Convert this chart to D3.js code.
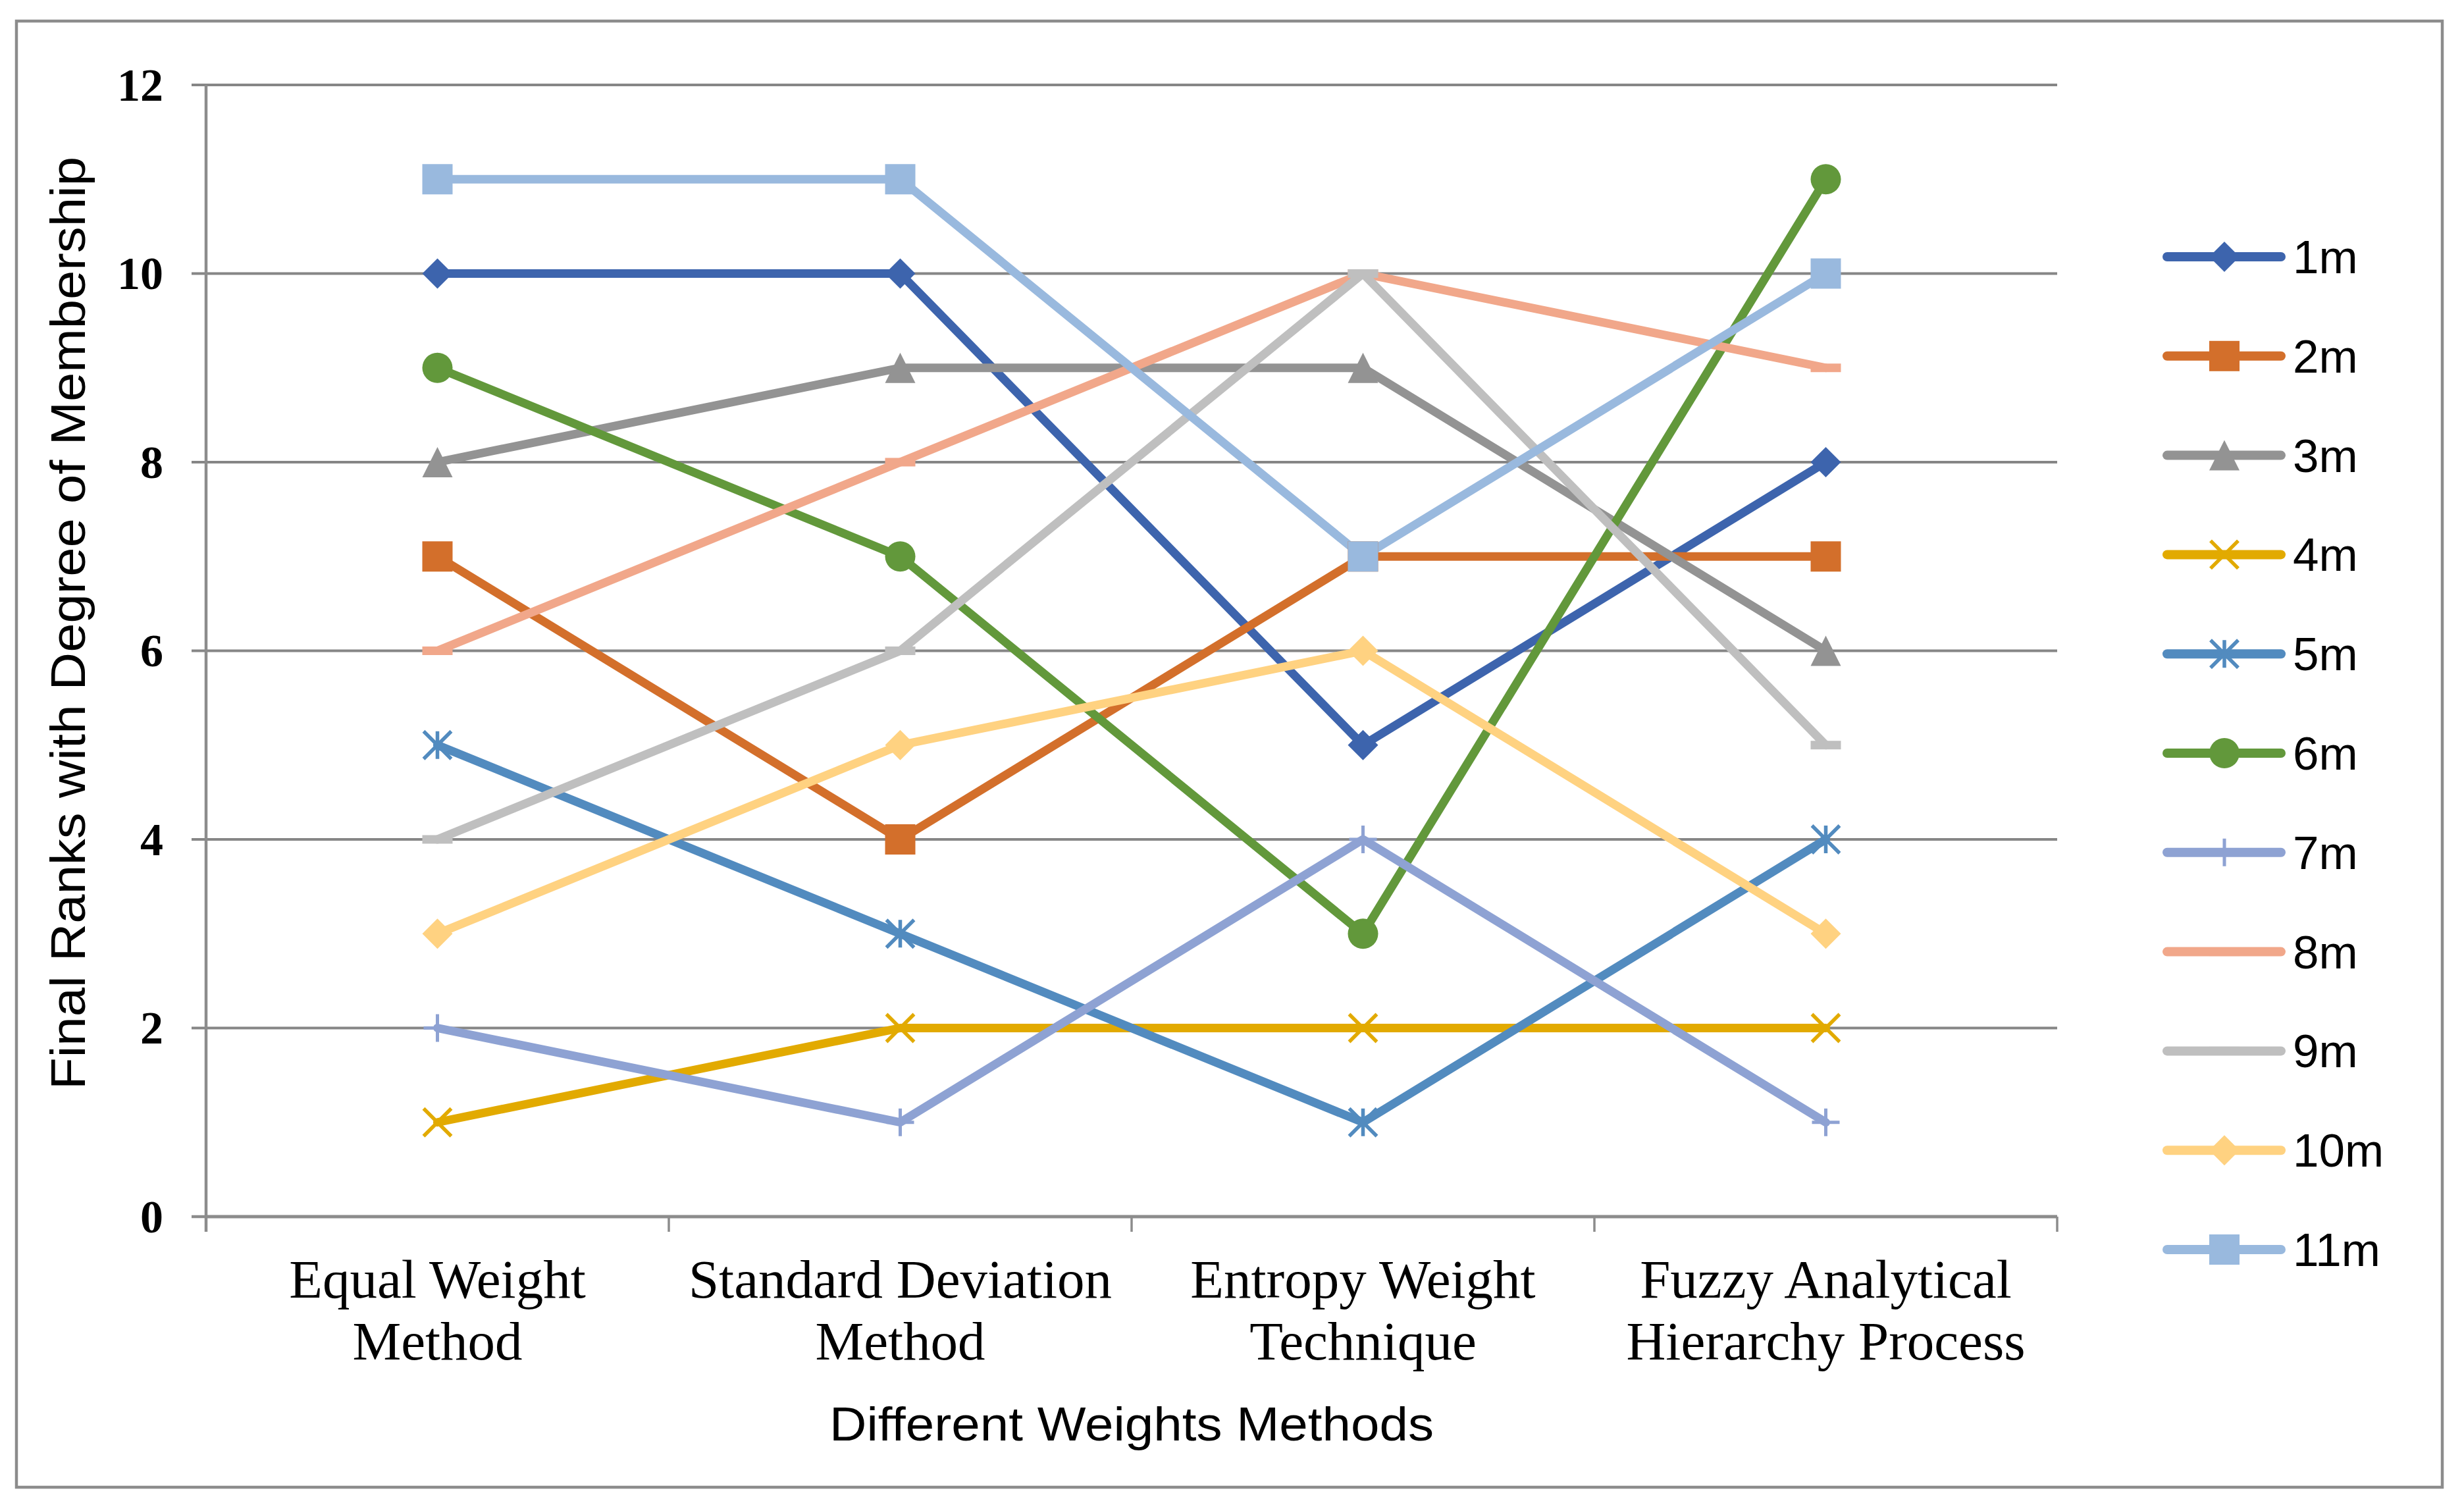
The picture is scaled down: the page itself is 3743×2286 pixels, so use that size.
<!DOCTYPE html>
<html>
<head>
<meta charset="utf-8">
<script src="https://cdn.jsdelivr.net/npm/d3@7"></script>
<style>
  html, body { margin: 0; padding: 0; background: #ffffff; }
  svg { display: block; }
</style>
</head>
<body>
<div id="chart"></div>
<script>
// ---------------- data ----------------
const categories = [
  "Equal Weight Method",
  "Standard Deviation Method",
  "Entropy Weight Technique",
  "Fuzzy Analytical Hierarchy Process"
];
const categoryLines = [
  ["Equal Weight", "Method"],
  ["Standard Deviation", "Method"],
  ["Entropy Weight", "Technique"],
  ["Fuzzy Analytical", "Hierarchy Process"]
];
const seriesNames = ["1m", "2m", "3m", "4m", "5m", "6m", "7m", "8m", "9m", "10m", "11m"];
const s1m  = [10, 10, 5, 8];
const s2m  = [7, 4, 7, 7];
const s3m  = [8, 9, 9, 6];
const s4m  = [1, 2, 2, 2];
const s5m  = [5, 3, 1, 4];
const s6m  = [9, 7, 3, 11];
const s7m  = [2, 1, 4, 1];
const s8m  = [6, 8, 10, 9];
const s9m  = [4, 6, 10, 5];
const s10m = [3, 5, 6, 3];
const s11m = [11, 11, 7, 10];
const seriesValues = [s1m, s2m, s3m, s4m, s5m, s6m, s7m, s8m, s9m, s10m, s11m];
const seriesColors = ["#3D64AD", "#D36F2B", "#939393", "#E2AA00", "#528BBF", "#62983B",
                      "#8EA2D3", "#F1A78A", "#BFBFBF", "#FFD281", "#99B9DE"];
const seriesMarkers = ["diamond", "square", "triangle", "x", "asterisk", "circle",
                       "plus", "dash", "dash", "diamond", "square"];
const yTicks = [0, 2, 4, 6, 8, 10, 12];
const yTitle = "Final Ranks with Degree of Membership";
const xTitle = "Different Weights Methods";

// ---------------- layout ----------------
const W = 3743, H = 2286;
const plot = { left: 313, right: 3125, top: 129, bottom: 1848 };
const gridColor = "#868686";
const axisColor = "#8C8C8C";

const svg = d3.select("#chart").append("svg")
  .attr("width", W).attr("height", H)
  .attr("viewBox", `0 0 ${W} ${H}`);

svg.append("rect").attr("x", 0).attr("y", 0).attr("width", W).attr("height", H).attr("fill", "#fff");

// outer border
svg.append("rect")
  .attr("x", 25).attr("y", 32).attr("width", 3710 - 25).attr("height", 2259 - 32)
  .attr("fill", "none").attr("stroke", axisColor).attr("stroke-width", 4.5);

const x = d3.scaleBand().domain(categories).range([plot.left, plot.right]).padding(0);
const xc = c => x(c) + x.bandwidth() / 2;
const y = d3.scaleLinear().domain([0, 12]).range([plot.bottom, plot.top]);

// gridlines
svg.append("g").selectAll("line").data(yTicks.filter(t => t > 0)).join("line")
  .attr("x1", plot.left - 22).attr("x2", plot.right)
  .attr("y1", d => y(d)).attr("y2", d => y(d))
  .attr("stroke", gridColor).attr("stroke-width", 4);

// y axis line + ticks
svg.append("line")
  .attr("x1", plot.left).attr("x2", plot.left)
  .attr("y1", y(12)).attr("y2", plot.bottom + 23)
  .attr("stroke", axisColor).attr("stroke-width", 4.5);
svg.append("line")
  .attr("x1", plot.left - 22).attr("x2", plot.left)
  .attr("y1", y(0)).attr("y2", y(0))
  .attr("stroke", axisColor).attr("stroke-width", 4.5);

// x axis line + ticks at category boundaries
svg.append("line")
  .attr("x1", plot.left).attr("x2", plot.right)
  .attr("y1", y(0)).attr("y2", y(0))
  .attr("stroke", axisColor).attr("stroke-width", 5);
const boundaries = categories.map(c => x(c)).concat([x(categories[categories.length - 1]) + x.bandwidth()]);
svg.append("g").selectAll("line").data(boundaries).join("line")
  .attr("x1", d => d).attr("x2", d => d)
  .attr("y1", y(0)).attr("y2", y(0) + 23)
  .attr("stroke", axisColor).attr("stroke-width", 3.5);

// y tick labels
svg.append("g").selectAll("text").data(yTicks).join("text")
  .attr("x", 248).attr("y", d => y(d))
  .attr("dy", "0.34em")
  .attr("text-anchor", "end")
  .attr("font-family", "'Liberation Serif', 'Times New Roman', serif")
  .attr("font-weight", "bold")
  .attr("font-size", 70)
  .attr("fill", "#000")
  .text(d => d);

// category labels
const catG = svg.append("g");
categories.forEach((c, i) => {
  const t = catG.append("text")
    .attr("text-anchor", "middle")
    .attr("font-family", "'Liberation Serif', 'Times New Roman', serif")
    .attr("font-size", 83)
    .attr("fill", "#000");
  categoryLines[i].forEach((ln, j) => {
    t.append("tspan").attr("x", xc(c)).attr("y", 1971 + j * 94).text(ln);
  });
});

// axis titles
svg.append("text")
  .attr("transform", `translate(129, ${(238 + 1655) / 2}) rotate(-90)`)
  .attr("text-anchor", "middle")
  .attr("font-family", "'Liberation Sans', Arial, sans-serif")
  .attr("font-size", 75)
  .attr("textLength", 1417).attr("lengthAdjust", "spacingAndGlyphs")
  .attr("fill", "#000")
  .text(yTitle);

svg.append("text")
  .attr("x", (plot.left + plot.right) / 2).attr("y", 2188)
  .attr("text-anchor", "middle")
  .attr("font-family", "'Liberation Sans', Arial, sans-serif")
  .attr("font-size", 73)
  .attr("textLength", 918).attr("lengthAdjust", "spacingAndGlyphs")
  .attr("fill", "#000")
  .text(xTitle);

// ---------------- markers ----------------
function drawMarker(g, type, cx, cy, color) {
  const s = 46, h = s / 2;
  switch (type) {
    case "diamond":
      g.append("path").attr("d", `M${cx},${cy - h} L${cx + h},${cy} L${cx},${cy + h} L${cx - h},${cy} Z`)
        .attr("fill", color);
      break;
    case "square":
      g.append("rect").attr("x", cx - h).attr("y", cy - h).attr("width", s).attr("height", s).attr("fill", color);
      break;
    case "triangle":
      g.append("path").attr("d", `M${cx},${cy - h} L${cx + h},${cy + h} L${cx - h},${cy + h} Z`)
        .attr("fill", color);
      break;
    case "circle":
      g.append("circle").attr("cx", cx).attr("cy", cy).attr("r", h).attr("fill", color);
      break;
    case "x": {
      const a = 21;
      g.append("path").attr("d", `M${cx - a},${cy - a} L${cx + a},${cy + a} M${cx - a},${cy + a} L${cx + a},${cy - a}`)
        .attr("stroke", color).attr("stroke-width", 5.5).attr("fill", "none");
      break;
    }
    case "asterisk": {
      const a = 21;
      g.append("path").attr("d", `M${cx - a},${cy - a} L${cx + a},${cy + a} M${cx - a},${cy + a} L${cx + a},${cy - a} M${cx},${cy - a} L${cx},${cy + a}`)
        .attr("stroke", color).attr("stroke-width", 5.5).attr("fill", "none");
      break;
    }
    case "plus": {
      const a = 21;
      g.append("path").attr("d", `M${cx - a},${cy} L${cx + a},${cy} M${cx},${cy - a} L${cx},${cy + a}`)
        .attr("stroke", color).attr("stroke-width", 5).attr("fill", "none");
      break;
    }
    case "dash":
      g.append("rect").attr("x", cx - h).attr("y", cy - 6.5).attr("width", s).attr("height", 13).attr("fill", color);
      break;
  }
}

// ---------------- series ----------------
const line = d3.line().x(d => xc(d.c)).y(d => y(d.v));
const linesG = svg.append("g");
const markG = svg.append("g");
seriesNames.forEach((name, i) => {
  const pts = categories.map((c, k) => ({ c, v: seriesValues[i][k] }));
  linesG.append("path").datum(pts)
    .attr("d", line)
    .attr("fill", "none")
    .attr("stroke", seriesColors[i])
    .attr("stroke-width", 13)
    .attr("stroke-linejoin", "round")
    .attr("stroke-linecap", "round");
  const mg = markG.append("g");
  pts.forEach(p => drawMarker(mg, seriesMarkers[i], xc(p.c), y(p.v), seriesColors[i]));
});

// ---------------- legend ----------------
const legG = svg.append("g");
seriesNames.forEach((name, i) => {
  const ly = 390 + i * 150.8;
  legG.append("line")
    .attr("x1", 3292).attr("x2", 3465).attr("y1", ly).attr("y2", ly)
    .attr("stroke", seriesColors[i]).attr("stroke-width", 14).attr("stroke-linecap", "round");
  drawMarker(legG, seriesMarkers[i], 3379, ly, seriesColors[i]);
  legG.append("text")
    .attr("x", 3483).attr("y", ly + 25)
    .attr("font-family", "'Liberation Sans', Arial, sans-serif")
    .attr("font-size", 71)
    .attr("fill", "#000")
    .text(name);
});
</script>
</body>
</html>
